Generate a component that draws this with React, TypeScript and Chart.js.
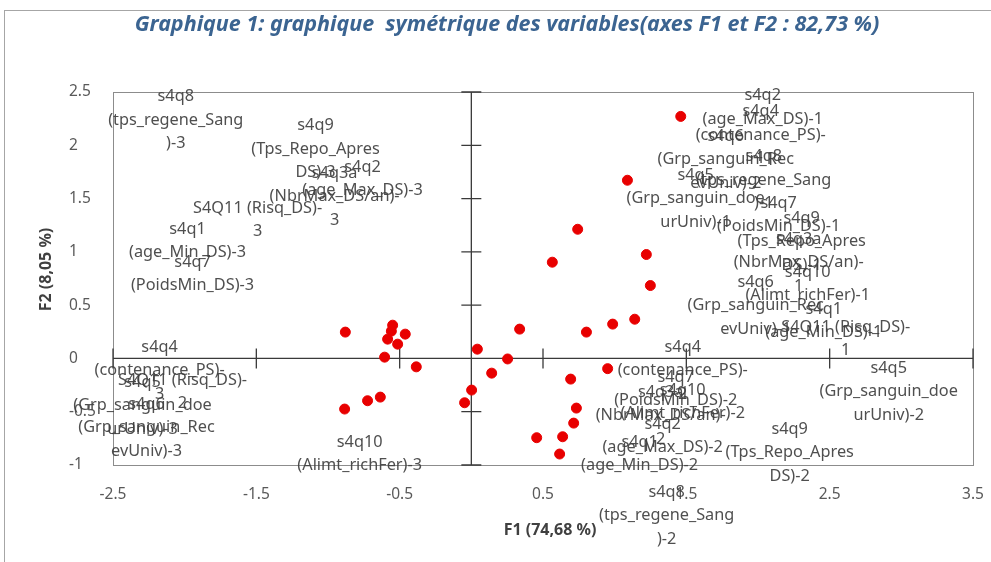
import React, { useEffect, useRef } from "react";
import { Chart, registerables } from "chart.js";

Chart.register(...registerables);

const TITLE = "Graphique 1: graphique  symétrique des variables(axes F1 et F2 : 82,73 %)";
const X_TITLE = "F1 (74,68 %)";
const Y_TITLE = "F2 (8,05 %)";

const X_TICKS = [-2.5, -1.5, -0.5, 0.5, 1.5, 2.5, 3.5];
const Y_TICKS = [-1, -0.5, 0, 0.5, 1, 1.5, 2, 2.5];

// Point coordinates (F1, F2)
const POINT_X = [
  1.461, 1.089, 0.742, 1.221, 0.565, 1.249, 1.14, 0.986, 0.803, 0.337,
  0.042, 0.253, 0.142, 0.002, -0.047,
  0.951, 0.693, 0.733, 0.714, 0.456, 0.637, 0.616,
  -0.879, -0.549, -0.558, -0.461, -0.584, -0.514, -0.605, -0.384, -0.635, -0.724, -0.884,
];
const POINT_Y = [
  2.271, 1.672, 1.212, 0.975, 0.903, 0.684, 0.368, 0.322, 0.247, 0.275,
  0.087, -0.005, -0.138, -0.297, -0.416,
  -0.096, -0.194, -0.466, -0.607, -0.744, -0.735, -0.897,
  0.247, 0.312, 0.256, 0.228, 0.181, 0.134, 0.012, -0.079, -0.363, -0.397, -0.475,
];

// Data labels (text, anchor in data coordinates of first line centre)
const LABEL_TEXT = [
  "s4q8\n(tps_regene_Sang\n)-3",
  "s4q9\n(Tps_Repo_Apres\nDS)-3",
  "s4q2\n(age_Max_DS)-3",
  "s4q3a\n(NbrMax_DS/an)-\n3",
  "S4Q11 (Risq_DS)-\n3",
  "s4q1\n(age_Min_DS)-3",
  "s4q7\n(PoidsMin_DS)-3",
  "s4q4\n(contenance_PS)-\n3",
  "s4q5\n(Grp_sanguin_doe\nurUniv)-3",
  "s4q6\n(Grp_sanguin_Rec\nevUniv)-3",
  "s4q10\n(Alimt_richFer)-3",
  "S4Q11 (Risq_DS)-\n2",
  "s4q4\n(contenance_PS)-\n2",
  "s4q7\n(PoidsMin_DS)-2",
  "s4q10\n(Alimt_richFer)-2",
  "s4q3a\n(NbrMax_DS/an)-\n2",
  "s4q2\n(age_Max_DS)-2",
  "s4q1\n(age_Min_DS)-2",
  "s4q8\n(tps_regene_Sang\n)-2",
  "s4q9\n(Tps_Repo_Apres\nDS)-2",
  "s4q5\n(Grp_sanguin_doe\nurUniv)-2",
  "s4q6\n(Grp_sanguin_Rec\nevUniv)-2",
  "s4q2\n(age_Max_DS)-1",
  "s4q4\n(contenance_PS)-\n1",
  "s4q8\n(tps_regene_Sang\n)-1",
  "s4q5\n(Grp_sanguin_doe\nurUniv)-1",
  "s4q7\n(PoidsMin_DS)-1",
  "s4q9\n(Tps_Repo_Apres\nDS)-1",
  "s4q3a\n(NbrMax_DS/an)-\n1",
  "s4q10\n(Alimt_richFer)-1",
  "s4q6\n(Grp_sanguin_Rec\nevUniv)-1",
  "s4q1\n(age_Min_DS)-1",
  "S4Q11 (Risq_DS)-\n1",
];
const LABEL_X = [
  -2.062, -1.087, -0.759, -0.954, -1.491, -1.98, -1.945, -2.175, -2.294, -2.266, -0.779,
  -2.015, 1.475, 1.426, 1.475, 1.321, 1.335, 1.174, 1.363, 2.221, 2.912, 1.775,
  2.033, 2.019, 2.04, 1.565, 2.144, 2.305, 2.284, 2.347, 1.984, 2.459, 2.612,
];
const LABEL_Y = [
  2.459, 2.186, 1.794, 1.737, 1.409, 1.212, 0.903, 0.106, -0.222, -0.429, -0.785,
  -0.204, 0.106, -0.176, -0.298, -0.316, -0.616, -0.785, -1.253, -0.663, -0.091, 2.084,
  2.468, 2.318, 1.896, 1.718, 1.455, 1.315, 1.118, 0.809, 0.715, 0.462, 0.293,
];

const LABEL_FONT = '16.3px "Noto Sans"';
const LINE_H = 23.5;

const decorPlugin = {
  id: "decor",
  beforeDatasetsDraw(chart: any) {
    const { ctx, chartArea: a, scales } = chart;
    const x = scales.x;
    const y = scales.y;
    ctx.save();
    ctx.strokeStyle = "#8c8c8c";
    ctx.lineWidth = 1;
    ctx.strokeRect(a.left + 0.5, a.top + 0.5, a.right - a.left, a.bottom - a.top);
    const x0 = x.getPixelForValue(0);
    const y0 = y.getPixelForValue(0);
    ctx.strokeStyle = "#3a3a3a";
    ctx.lineWidth = 1.3;
    ctx.beginPath();
    ctx.moveTo(a.left, y0);
    ctx.lineTo(a.right, y0);
    ctx.moveTo(x0, a.top);
    ctx.lineTo(x0, a.bottom);
    X_TICKS.forEach((v) => {
      const px = x.getPixelForValue(v);
      ctx.moveTo(px, y0 - 10);
      ctx.lineTo(px, y0 + 10);
    });
    Y_TICKS.forEach((v) => {
      const py = y.getPixelForValue(v);
      ctx.moveTo(x0 - 10, py);
      ctx.lineTo(x0 + 10, py);
    });
    ctx.stroke();
    ctx.restore();
  },
  afterDatasetsDraw(chart: any) {
    const { ctx, scales } = chart;
    const x = scales.x;
    const y = scales.y;
    ctx.save();
    ctx.font = LABEL_FONT;
    ctx.fillStyle = "rgba(64,64,64,0.92)";
    ctx.textAlign = "center";
    ctx.textBaseline = "middle";
    LABEL_TEXT.forEach((t, i) => {
      const px = x.getPixelForValue(LABEL_X[i]);
      const py = y.getPixelForValue(LABEL_Y[i]);
      t.split("\n").forEach((line, j) => {
        ctx.fillText(line, px, py + j * LINE_H);
      });
    });
    ctx.restore();
  },
  afterDraw(chart: any) {
    const { ctx, chartArea: a } = chart;
    ctx.save();
    ctx.textAlign = "center";
    ctx.textBaseline = "middle";
    ctx.fillStyle = "#3b6491";
    ctx.font = 'italic bold 21.5px "Noto Sans"';
    ctx.fillText(TITLE, 507, 25);
    ctx.fillStyle = "#404040";
    ctx.font = 'bold 16px "Noto Sans"';
    ctx.fillText(X_TITLE, (a.left + a.right) / 2 + 7, 530);
    ctx.translate(46, (a.top + a.bottom) / 2 - 9);
    ctx.rotate(-Math.PI / 2);
    ctx.fillText(Y_TITLE, 0, 0);
    ctx.restore();
  },
};

export default function App() {
  const ref = useRef<HTMLCanvasElement>(null);
  useEffect(() => {
    if (!ref.current) return;
    const data = POINT_X.map((v, i) => ({ x: v, y: POINT_Y[i] }));
    const chart = new Chart(ref.current, {
      type: "scatter",
      data: {
        datasets: [
          {
            data,
            backgroundColor: "#e80000",
            borderColor: "#e80000",
            pointRadius: 5,
            pointHoverRadius: 5,
          },
        ],
      },
      options: {
        animation: false,
        responsive: false,
        events: [],
        layout: { padding: { top: 92, right: 18, left: 69, bottom: 0 } },
        plugins: { legend: { display: false }, tooltip: { enabled: false }, title: { display: false } },
        scales: {
          x: {
            type: "linear",
            min: -2.5,
            max: 3.5,
            grid: { display: false, drawTicks: false },
            border: { display: false },
            ticks: {
              color: "#595959",
              font: { family: "Noto Sans", size: 15.5 },
              padding: 20,
              maxRotation: 0,
              autoSkip: false,
              callback: (v: any) => String(v),
            },
            afterBuildTicks: (s: any) => {
              s.ticks = X_TICKS.map((value) => ({ value }));
            },
            afterFit: (s: any) => {
              s.height = 97;
              s.paddingLeft = 0;
              s.paddingRight = 0;
            },
          },
          y: {
            type: "linear",
            min: -1,
            max: 2.5,
            grid: { display: false, drawTicks: false },
            border: { display: false },
            ticks: {
              color: "#595959",
              font: { family: "Noto Sans", size: 15.5 },
              padding: 17,
              autoSkip: false,
              crossAlign: "far",
              callback: (v: any) => String(v),
            },
            afterBuildTicks: (s: any) => {
              s.ticks = Y_TICKS.map((value) => ({ value }));
            },
            afterFit: (s: any) => {
              s.width = 44;
              s.paddingTop = 0;
              s.paddingBottom = 0;
            },
          },
        },
      },
      plugins: [decorPlugin],
    });
    return () => chart.destroy();
  }, []);
  return (
    <div style={{ position: "absolute", left: 0, top: 0, width: 991, height: 562, overflow: "hidden", background: "#fff" }}>
      <div style={{ position: "absolute", left: 4, top: 10, width: 1000, height: 600, border: "1px solid #a6a6a6" }} />
      <canvas ref={ref} width={991} height={562} style={{ position: "absolute", left: 0, top: 0 }} />
    </div>
  );
}
